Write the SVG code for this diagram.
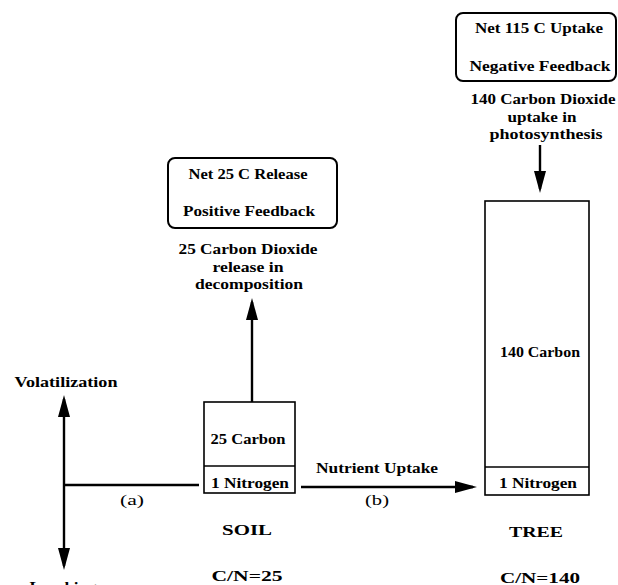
<svg xmlns="http://www.w3.org/2000/svg" width="618" height="585" viewBox="0 0 618 585">
<style>
text{font-family:"Liberation Serif","Times New Roman",serif;font-weight:bold;font-size:15.5px;fill:#000;text-anchor:middle}
.reg{font-weight:normal}
.box{fill:#fff;stroke:#000;stroke-width:1.6}
.note{fill:#fff;stroke:#000;stroke-width:2}
.c{stroke:#000;stroke-width:2.4;fill:none}
</style>
<defs>
<marker id="ah" markerUnits="userSpaceOnUse" viewBox="0 0 22 12" refX="18" refY="6" markerWidth="22" markerHeight="12" orient="auto-start-reverse">
<path d="M0,0 L22,6 L0,12 Z" fill="#000"/>
</marker>
</defs>
<rect width="618" height="585" fill="#fff"/>
<g id="connectors">
<line class="c" x1="252" y1="402" x2="252" y2="302" marker-end="url(#ah)"/>
<line class="c" x1="540" y1="145" x2="540" y2="189" marker-end="url(#ah)"/>
<line class="c" x1="199" y1="485" x2="64" y2="485"/>
<line class="c" x1="64" y1="399" x2="64" y2="566" marker-start="url(#ah)" marker-end="url(#ah)"/>
<line class="c" x1="301" y1="487" x2="473" y2="487" marker-end="url(#ah)"/>
</g>
<g id="net25">
<rect class="note" x="168" y="158" width="169" height="70" rx="7"/>
<text x="248" y="179" textLength="119" lengthAdjust="spacingAndGlyphs">Net 25 C Release</text>
<text x="249" y="216" textLength="132" lengthAdjust="spacingAndGlyphs">Positive Feedback</text>
</g>
<g id="net115">
<rect class="note" x="456" y="13" width="160" height="68" rx="7"/>
<text x="539" y="33" textLength="128" lengthAdjust="spacingAndGlyphs">Net 115 C Uptake</text>
<text x="540" y="71" textLength="141" lengthAdjust="spacingAndGlyphs">Negative Feedback</text>
</g>
<g id="release-label">
<text x="248" y="254" textLength="139" lengthAdjust="spacingAndGlyphs">25 Carbon Dioxide</text>
<text x="248" y="272" textLength="71" lengthAdjust="spacingAndGlyphs">release in</text>
<text x="249" y="289" textLength="108" lengthAdjust="spacingAndGlyphs">decomposition</text>
</g>
<g id="uptake-label">
<text x="543" y="104" textLength="145" lengthAdjust="spacingAndGlyphs">140 Carbon Dioxide</text>
<text x="542" y="122" textLength="69" lengthAdjust="spacingAndGlyphs">uptake in</text>
<text x="546" y="139" textLength="113" lengthAdjust="spacingAndGlyphs">photosynthesis</text>
</g>
<g id="soil">
<rect class="box" x="204" y="402" width="91" height="91"/>
<line class="box" x1="204" y1="466" x2="295" y2="466"/>
<text x="248" y="444" textLength="75" lengthAdjust="spacingAndGlyphs">25 Carbon</text>
<text x="250" y="488" textLength="78" lengthAdjust="spacingAndGlyphs">1 Nitrogen</text>
<text x="247" y="535" textLength="50" lengthAdjust="spacingAndGlyphs">SOIL</text>
<text x="247" y="581" textLength="71" lengthAdjust="spacingAndGlyphs">C/N=25</text>
</g>
<g id="tree">
<rect class="box" x="485" y="201" width="104" height="294"/>
<line class="box" x1="485" y1="467" x2="589" y2="467"/>
<text x="540" y="357" textLength="80" lengthAdjust="spacingAndGlyphs">140 Carbon</text>
<text x="538" y="488" textLength="78" lengthAdjust="spacingAndGlyphs">1 Nitrogen</text>
<text x="536" y="537" textLength="54" lengthAdjust="spacingAndGlyphs">TREE</text>
<text x="540" y="583" textLength="80" lengthAdjust="spacingAndGlyphs">C/N=140</text>
</g>
<g id="labels">
<text x="66" y="387" textLength="103" lengthAdjust="spacingAndGlyphs">Volatilization</text>
<text x="63" y="592" textLength="67" lengthAdjust="spacingAndGlyphs">Leaching</text>
<text x="377" y="473" textLength="122" lengthAdjust="spacingAndGlyphs">Nutrient Uptake</text>
<text class="reg" x="132" y="505" textLength="24" lengthAdjust="spacingAndGlyphs">(a)</text>
<text class="reg" x="377" y="505" textLength="24" lengthAdjust="spacingAndGlyphs">(b)</text>
</g>
</svg>
